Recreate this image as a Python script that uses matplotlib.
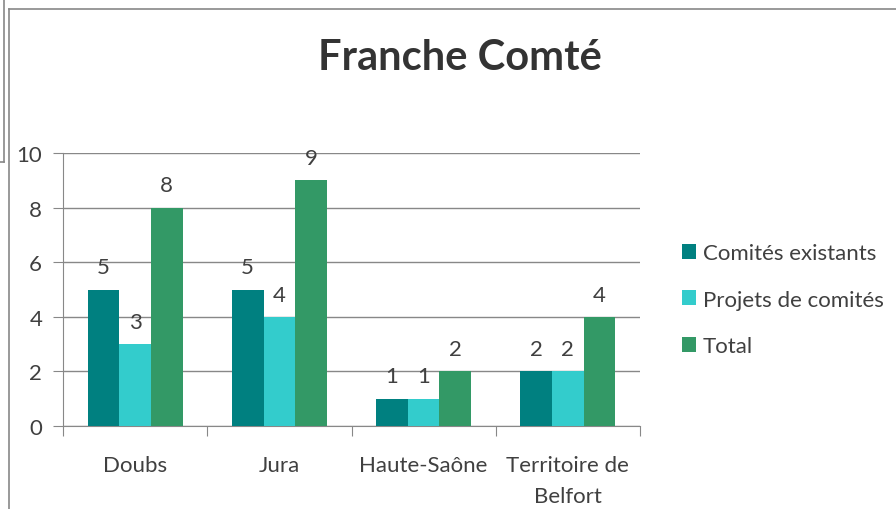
import matplotlib.pyplot as plt
import numpy as np
from matplotlib.lines import Line2D

categories = ['Doubs', 'Jura', 'Haute-Saône', 'Territoire de\nBelfort']
existants = [5, 5, 1, 2]
projets = [3, 4, 1, 2]
total = [8, 9, 2, 4]
series_names = ['Comités existants', 'Projets de comités', 'Total']
colors = ['#008080', '#33CCCC', '#339966']

plt.rcParams['font.family'] = ['Lato', 'DejaVu Sans']
txt = '#404040'
fs = 16

fig = plt.figure(figsize=(8.96, 5.10), dpi=100)
ax = fig.add_axes([63/896, 83/510, 577/896, 273/510])

x = np.arange(len(categories))
w = 0.22
handles = []
for i, (vals, name) in enumerate(zip([existants, projets, total], series_names)):
    bars = ax.bar(x + (i - 1) * w, vals, w, color=colors[i], label=name, zorder=3)
    handles.append(bars)
    for xi, v in zip(x + (i - 1) * w, vals):
        ax.text(xi, v + 0.45, str(v), ha='center', va='bottom', fontsize=fs, color=txt)

ax.set_xlim(-0.5, 3.5)
ax.set_ylim(0, 10)
ax.set_yticks(range(0, 11, 2))
ax.yaxis.grid(True, color='#888888', linewidth=1, zorder=0)
ax.set_axisbelow(True)
for s in ['top', 'right']:
    ax.spines[s].set_visible(False)
for s in ['left', 'bottom']:
    ax.spines[s].set_color('#888888')
ax.set_xticks(np.arange(-0.5, 4, 1))
ax.set_xticklabels([])
ax.set_xticks(x, minor=True)
ax.set_xticklabels(categories, minor=True, fontsize=fs, color=txt, linespacing=1.7)
ax.tick_params(axis='x', which='minor', length=0, pad=21)
ax.tick_params(axis='x', which='major', length=7, color='#888888')
ax.tick_params(axis='y', length=7, color='#888888', labelsize=fs, labelcolor=txt, pad=8)

fig.text(460/896, 1 - 58/510, 'Franche Comté', ha='center', va='center',
         fontsize=30, fontweight='bold', color='#333333')

fig.legend(handles=handles, loc='upper left', bbox_to_anchor=(673/896, 1 - 235/510),
           frameon=False, fontsize=fs, labelcolor=txt, handlelength=0.65,
           handleheight=0.65, handletextpad=0.3, labelspacing=1.2, borderaxespad=0)

# chart border lines
fig.add_artist(Line2D([9/896, 9/896], [0, 1 - 10/510], color='#888888', lw=1.2))
fig.add_artist(Line2D([9/896, 1], [1 - 10/510, 1 - 10/510], color='#888888', lw=1.2))
fig.add_artist(Line2D([4/896, 4/896], [1, 1 - 163/510], color='#888888', lw=1.2))
fig.add_artist(Line2D([0, 4/896], [1 - 163/510, 1 - 163/510], color='#888888', lw=1.2))

fig.savefig('out.png', dpi=100)
